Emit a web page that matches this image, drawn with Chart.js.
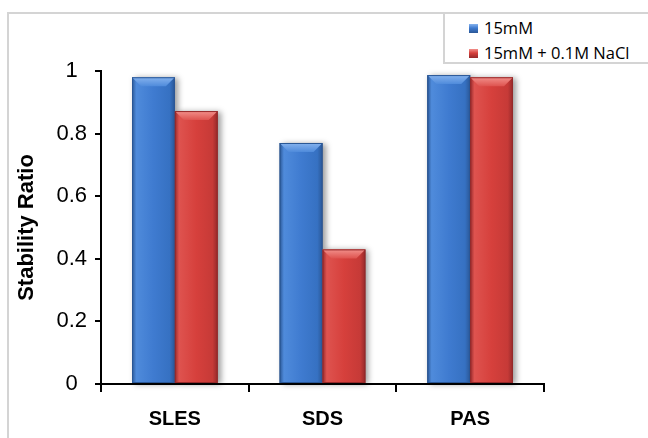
<!DOCTYPE html>
<html>
<head>
<meta charset="utf-8">
<script src="https://cdn.jsdelivr.net/npm/chart.js@4.4.0/dist/chart.umd.min.js"></script>
<style>
  html, body { margin: 0; padding: 0; background: #fff; }
  #wrap { position: relative; width: 648px; height: 438px; }
  #frame { position: absolute; left: 7px; top: 12px; right: 0; bottom: 0; border-left: 2px solid #d4d4d4; border-top: 2px solid #d4d4d4; pointer-events: none; }
  #legend { position: absolute; left: 443px; top: 12px; width: 205px; height: 52px; border: 2px solid #d4d4d4; border-right: none; box-sizing: border-box; background: #fff; font-family: 'Open Sans', sans-serif; font-size: 16.5px; color: #000; }
  .item { position: absolute; left: 24px; height: 22px; line-height: 22px; white-space: nowrap; }
  .sw { display: inline-block; width: 9px; height: 9px; margin-right: 6px; vertical-align: middle; position: relative; top: -1px; }
</style>
</head>
<body>
<div id="wrap">
  <canvas id="chart" width="648" height="438"></canvas>
  <div id="frame"></div>
  <div id="legend"></div>
</div>
<script>
const categories = ['SLES', 'SDS', 'PAS'];
const seriesLabels = ['15mM', '15mM + 0.1M NaCl'];
const ratio15mM = [0.98, 0.77, 0.987];
const ratioNaCl = [0.872, 0.43, 0.98];
const yMin = 0;
const yMax = 1;
const yStep = 0.2;

// bar shading, one palette per series
const palettes = [
  { dark: '#2a5796', mid: '#3f7bd0', mid2: '#3671c2', light: '#4f8bdb', hi: '#86b3ee' },
  { dark: '#95292a', mid: '#d6403c', mid2: '#c63a37', light: '#de534f', hi: '#f2908b' }
];

const bevelPlugin = {
  id: 'bevel',
  afterDatasetsDraw(chart) {
    const ctx = chart.ctx;
    const metas = chart.data.datasets.map((d, i) => chart.getDatasetMeta(i));
    // shadows first so they sit under the neighbouring bars
    metas.forEach(meta => {
      meta.data.forEach(bar => {
        const { x, y, base, width } = bar.getProps(['x', 'y', 'base', 'width'], true);
        ctx.save();
        ctx.shadowColor = 'rgba(0,0,0,0.4)';
        ctx.shadowBlur = 6;
        ctx.shadowOffsetX = 3;
        ctx.shadowOffsetY = 1;
        ctx.fillStyle = '#888';
        ctx.fillRect(x - width / 2, y, width, base - y);
        ctx.restore();
      });
    });
    metas.forEach((meta, i) => {
      const pal = palettes[i];
      meta.data.forEach(bar => {
        const { x, y, base, width } = bar.getProps(['x', 'y', 'base', 'width'], true);
        const l = x - width / 2, r = x + width / 2, t = y, h = base - y;
        ctx.save();
        const g = ctx.createLinearGradient(l, 0, r, 0);
        g.addColorStop(0, pal.dark);
        g.addColorStop(0.1, pal.light);
        g.addColorStop(0.5, pal.mid);
        g.addColorStop(0.88, pal.mid2);
        g.addColorStop(1, pal.dark);
        ctx.fillStyle = g;
        ctx.fillRect(l, t, width, h);

        const bv = Math.min(9, h / 2);
        const tg = ctx.createLinearGradient(0, t, 0, t + bv);
        tg.addColorStop(0, pal.hi);
        tg.addColorStop(1, pal.light);
        ctx.fillStyle = tg;
        ctx.beginPath();
        ctx.moveTo(l, t);
        ctx.lineTo(r, t);
        ctx.lineTo(r - bv, t + bv);
        ctx.lineTo(l + bv, t + bv);
        ctx.closePath();
        ctx.fill();

        ctx.strokeStyle = pal.dark;
        ctx.lineWidth = 1;
        ctx.strokeRect(l + 0.5, t + 0.5, width - 1, h - 1);
        ctx.restore();
      });
    });
  }
};

const chart = new Chart(document.getElementById('chart'), {
  type: 'bar',
  data: {
    labels: categories,
    datasets: [
      { label: seriesLabels[0], data: ratio15mM, backgroundColor: palettes[0].mid, borderWidth: 0 },
      { label: seriesLabels[1], data: ratioNaCl, backgroundColor: palettes[1].mid, borderWidth: 0 }
    ]
  },
  options: {
    responsive: false,
    animation: false,
    categoryPercentage: 0.58,
    barPercentage: 1.0,
    layout: { padding: { top: 71, right: 104, left: 0, bottom: 0 } },
    plugins: {
      legend: { display: false },
      tooltip: { enabled: false }
    },
    scales: {
      x: {
        grid: { display: true, drawOnChartArea: false, drawTicks: true, tickLength: 8, color: '#000', lineWidth: 2, offset: true },
        border: { color: '#000', width: 2 },
        ticks: { color: '#000', font: { family: 'Liberation Sans', size: 20, weight: 'bold' }, padding: 15 },
        afterFit: s => { s.height = 54; }
      },
      y: {
        min: yMin,
        max: yMax,
        ticks: {
          stepSize: yStep,
          color: '#000',
          font: { family: 'Liberation Sans', size: 22 },
          padding: 8,
          crossAlign: 'center',
          callback: v => String(Math.round(v * 10) / 10)
        },
        grid: { drawOnChartArea: false, tickLength: 6, color: '#000', lineWidth: 2 },
        border: { color: '#000', width: 2 },
        title: {
          display: true,
          text: 'Stability Ratio',
          color: '#000',
          font: { family: 'Liberation Sans', size: 22, weight: 'bold' },
          padding: { top: 14, bottom: 0 }
        },
        afterFit: s => { s.width = 101; }
      }
    }
  },
  plugins: [bevelPlugin]
});

// html legend built from the datasets
const legendEl = document.getElementById('legend');
chart.data.datasets.forEach((ds, i) => {
  const item = document.createElement('div');
  item.className = 'item';
  item.style.top = (3 + i * 25) + 'px';
  const pal = palettes[i];
  item.innerHTML = `<span class="sw" style="background: linear-gradient(180deg, ${pal.hi}, ${pal.mid} 45%, ${pal.dark});"></span>${ds.label}`;
  legendEl.appendChild(item);
});
</script>
</body>
</html>
